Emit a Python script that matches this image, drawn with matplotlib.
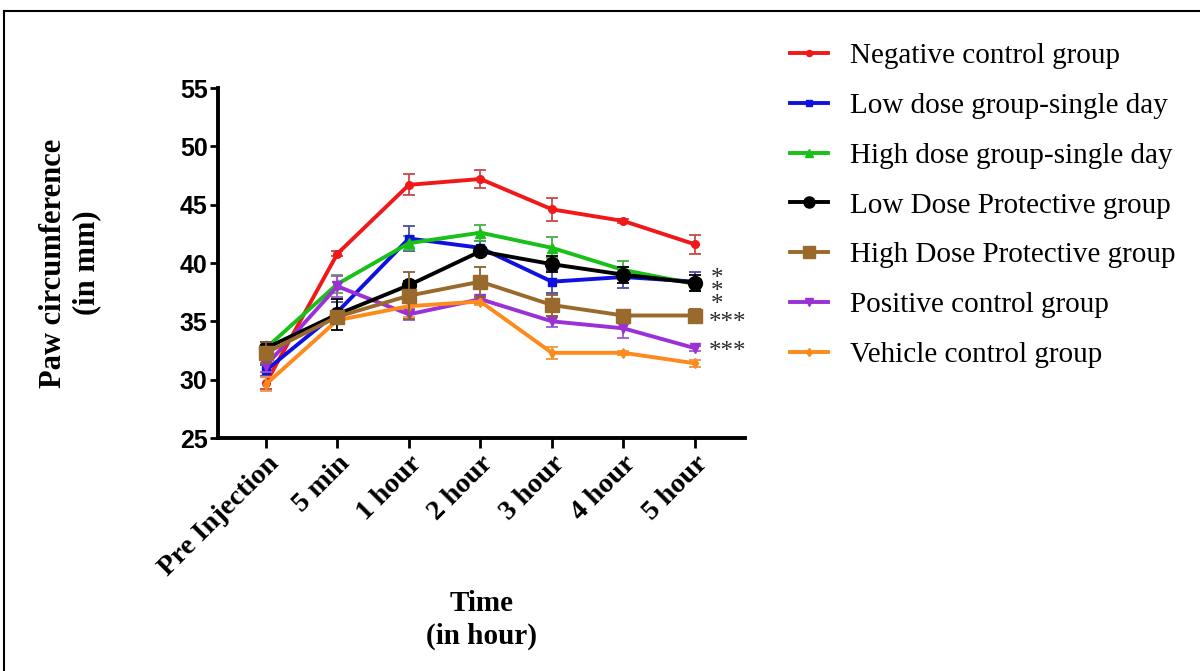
import matplotlib
matplotlib.use("Agg")
import matplotlib.pyplot as plt
from matplotlib.lines import Line2D
import numpy as np

# ---------------- data ----------------
time_labels = ["Pre Injection", "5 min", "1 hour", "2 hour", "3 hour", "4 hour", "5 hour"]

group_names = [
    "Negative control group",
    "Low dose group-single day",
    "High dose group-single day",
    "Low Dose Protective group",
    "High Dose Protective group",
    "Positive control group",
    "Vehicle control group",
]

negative_mean = [29.7, 40.8, 46.7, 47.2, 44.6, 43.6, 41.6]
negative_err = [0.5, 0.2, 0.9, 0.8, 1.0, 0.15, 0.8]

low_single_mean = [30.8, 35.8, 42.1, 41.3, 38.4, 38.8, 38.4]
low_single_err = [0.5, 0.9, 1.1, 0.6, 1.0, 0.9, 0.8]

high_single_mean = [32.7, 38.2, 41.7, 42.6, 41.3, 39.4, 38.2]
high_single_err = [0.5, 0.8, 0.6, 0.7, 0.9, 0.8, 0.2]

low_prot_mean = [32.7, 35.6, 38.1, 41.0, 39.9, 39.0, 38.3]
low_prot_err = [0.5, 1.3, 0.4, 0.3, 0.7, 0.7, 0.7]

high_prot_mean = [32.3, 35.4, 37.2, 38.4, 36.4, 35.5, 35.5]
high_prot_err = [0.9, 0.5, 2.0, 1.3, 0.9, 0.3, 0.6]

positive_mean = [31.2, 38.0, 35.6, 36.9, 35.0, 34.4, 32.7]
positive_err = [0.5, 0.9, 0.5, 0.4, 0.5, 0.8, 0.2]

vehicle_mean = [29.6, 35.1, 36.3, 36.7, 32.3, 32.3, 31.4]
vehicle_err = [0.6, 0.3, 0.9, 0.3, 0.5, 0.2, 0.3]

# significance marks at the last time point
sig_labels = ["*\n*\n*", "***", "***"]
sig_y = [37.5, 34.85, 32.35]
sig_x = [6.31, 6.46, 6.46]

# ---------------- style ----------------
colors = ["#f01818", "#1010e0", "#18c018", "#000000", "#9a6a2c", "#9b30d6", "#ff8a1c"]
err_colors = ["#c84848", "#4a4aa8", "#48b048", "#000000", "#8a6030", "#a058c8", "#e89848"]
markers = ["o", "s", "^", "o", "s", "v", "d"]
msizes = [5.5, 5.5, 6.5, 10, 10, 7, 5.5]

means = [negative_mean, low_single_mean, high_single_mean, low_prot_mean,
         high_prot_mean, positive_mean, vehicle_mean]
errs = [negative_err, low_single_err, high_single_err, low_prot_err,
        high_prot_err, positive_err, vehicle_err]

W, H = 1200, 671
fig = plt.figure(figsize=(W / 100, H / 100), dpi=100)
fig.patch.set_facecolor("white")

ax = fig.add_axes([218 / W, 1 - 438 / H, (745 - 218) / W, (438 - 88) / H])

x = np.arange(len(time_labels))
zorders = [3, 3, 3, 5, 6, 4, 4]
for i in range(len(group_names)):
    ax.errorbar(x, means[i], yerr=errs[i], color=colors[i], ecolor=err_colors[i],
                elinewidth=1.3, capsize=4.5, capthick=1.3, lw=2.8,
                marker=markers[i], markersize=msizes[i], mec=colors[i], mfc=colors[i],
                zorder=zorders[i])

ax.set_xlim(-0.67, 6.7)
ax.set_ylim(25, 55)
ax.set_yticks([25, 30, 35, 40, 45, 50, 55])
ax.set_xticks(x)
ax.set_xticklabels(time_labels, rotation=45, ha="right", va="top",
                   rotation_mode="anchor", family="Liberation Serif",
                   fontweight="bold", fontsize=20.5)
for lab in ax.get_yticklabels():
    lab.set_family("Liberation Sans")
    lab.set_fontweight("bold")
    lab.set_fontsize(18)

for s in ["top", "right"]:
    ax.spines[s].set_visible(False)
for s in ["left", "bottom"]:
    ax.spines[s].set_linewidth(2.8)
ax.tick_params(axis="y", length=5.5, width=2.0, pad=2)
ax.tick_params(axis="x", length=7.5, width=2.0, pad=2)

for lbl, yy, xx in zip(sig_labels, sig_y, sig_x):
    ax.text(xx, yy, lbl, fontsize=18, family="Liberation Serif", color="#2a2a2a",
            ha="center", va="center", linespacing=0.47, clip_on=False)

# axis titles
fig.text(70 / W, 1 - 263 / H, "Paw circumference\n(in mm)", rotation=90,
         ha="center", va="center", multialignment="center",
         family="Liberation Serif", fontweight="bold", fontsize=22, linespacing=1.2)
fig.text(482 / W, 1 - 620 / H, "Time\n(in hour)", ha="center", va="center",
         multialignment="center", family="Liberation Serif", fontweight="bold",
         fontsize=21, linespacing=1.25)

# legend
handles = [Line2D([0], [0], color=colors[i], lw=2.8, marker=markers[i],
                  markersize=msizes[i] * 0.8, mec=colors[i], mfc=colors[i])
           for i in range(len(group_names))]
fig.legend(handles, group_names, loc="upper left",
           bbox_to_anchor=(790 / W, 1 - 43 / H), frameon=False,
           prop={"family": "Liberation Serif", "size": 21},
           handlelength=1.3, handletextpad=0.75, labelspacing=0.8,
           borderpad=0, borderaxespad=0)

# outer frame
fig.add_artist(Line2D([4 / W, 4 / W], [0, 1 - 11 / H], transform=fig.transFigure,
                      color="black", lw=1.5))
fig.add_artist(Line2D([4 / W, 1], [1 - 11 / H, 1 - 11 / H], transform=fig.transFigure,
                      color="black", lw=1.5))

fig.savefig("out.png", dpi=100, facecolor="white")
